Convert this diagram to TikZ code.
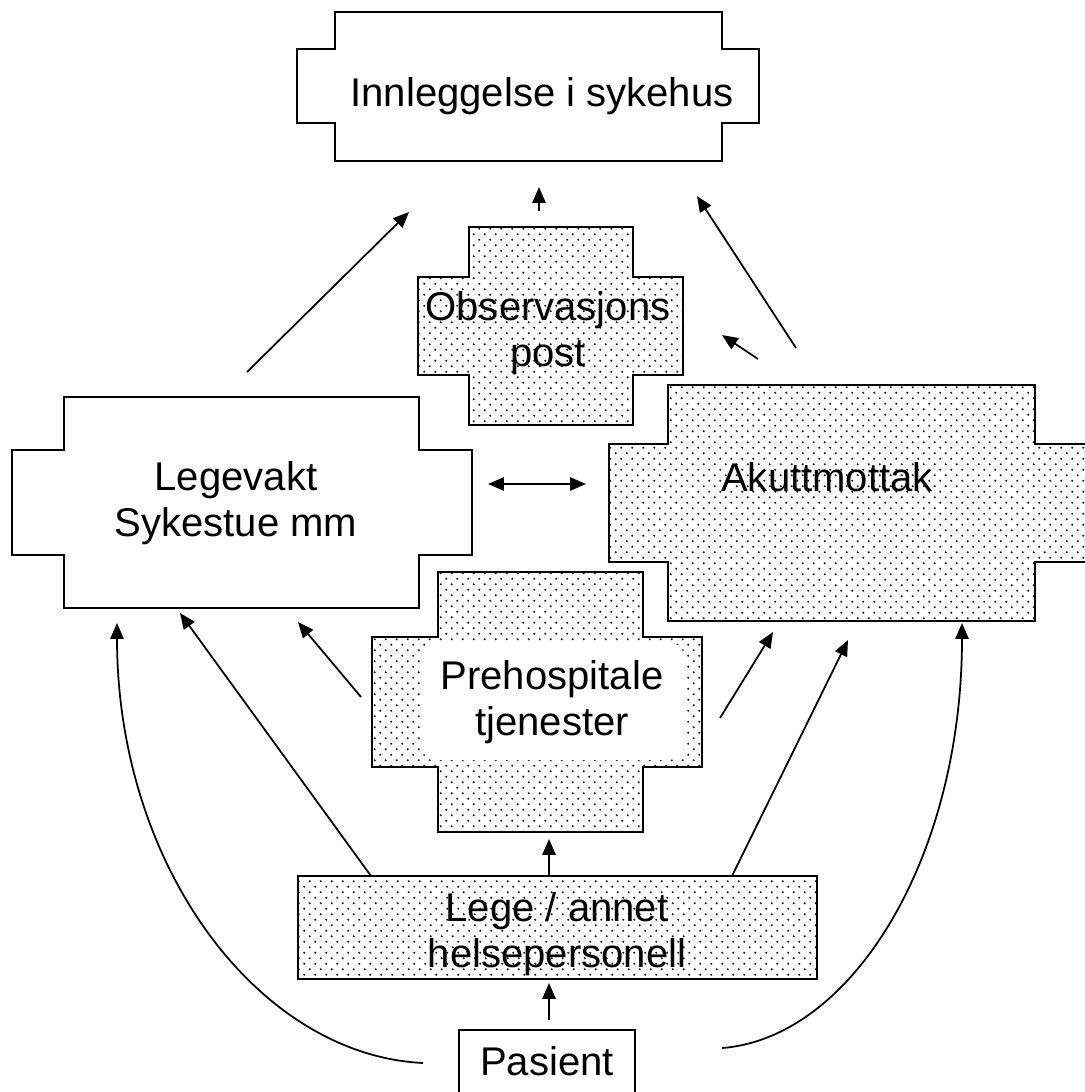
\documentclass[tikz,border=0pt]{standalone}
\usepackage{fontspec}
\setmainfont{Liberation Sans}
\usetikzlibrary{arrows.meta,patterns}
\pgfdeclarepatternformonly{pdots}{\pgfqpoint{0pt}{0pt}}{\pgfqpoint{6.24pt}{6.24pt}}{\pgfqpoint{6.24pt}{6.24pt}}{%
  \pgfpathcircle{\pgfqpoint{1.56pt}{1.56pt}}{0.62pt}%
  \pgfpathcircle{\pgfqpoint{4.68pt}{4.68pt}}{0.62pt}%
  \pgfusepath{fill}}
% #1 style, #2 wide left, #3 inner left, #4 inner right, #5 wide right,
% #6 inner top, #7 wide top, #8 wide bottom, #9 inner bottom
\newcommand\plaque[9]{\draw[#1] (#3,#6) -- (#4,#6) -- (#4,#7) -- (#5,#7) -- (#5,#8) -- (#4,#8) -- (#4,#9) -- (#3,#9) -- (#3,#8) -- (#2,#8) -- (#2,#7) -- (#3,#7) -- cycle;}
\begin{document}
\begin{tikzpicture}[x=0.02cm,y=-0.02cm,
  plainbox/.style={draw=black, line width=1.1pt, fill=white},
  dotbox/.style={draw=black, line width=1.1pt, preaction={fill=white}, pattern=pdots, pattern color=black!90},
  lbl/.style={font=\fontsize{22.8}{26.1}\selectfont, inner sep=0pt, align=center, anchor=base},
  arr/.style={-{Triangle[length=9pt,width=7.5pt]}, line width=1pt},
  darr/.style={{Triangle[length=9pt,width=7.5pt]}-{Triangle[length=9pt,width=7.5pt]}, line width=1pt}]
\clip (0,0) rectangle (1085,1092);
\fill[white] (0,0) rectangle (1085,1092);

% shapes
\plaque{plainbox}{297}{335}{722}{759}{12}{49}{123}{161}
\plaque{dotbox}{418}{469}{633}{683}{227}{277}{375}{425}
\plaque{plainbox}{12}{64}{419}{472}{397}{450}{555}{608}
\plaque{dotbox}{609}{668}{1035}{1100}{385}{444}{562}{621}
\plaque{dotbox}{372}{438}{643}{702}{572}{637}{767}{832}
\fill[white, rounded corners=10] (420,642) rectangle (685,760);
\draw[dotbox] (298,876) rectangle (817,979);
\draw[plainbox] (459,1030) rectangle (635,1110);

% labels
\node[lbl] (inn) at (542,106) {Innleggelse i sykehus};
\node[lbl] (obs) at (548,366) {Observasjons\\post};
\node[lbl] (leg) at (236,536) {Legevakt\\Sykestue mm};
\node[lbl] (akutt) at (827,491) {Akuttmottak};
\node[lbl] (preh) at (552,735) {Prehospitale\\tjenester};
\node[lbl] (lege) at (557,967) {Lege / annet\\helsepersonell};
\node[lbl] (pas) at (547,1075) {Pasient};

% connector ends
\coordinate (legS) at (247,372);   \coordinate (innA) at (409,212);
\coordinate (obsS) at (539,211);   \coordinate (innB) at (539,187);
\coordinate (akS1) at (796,348);   \coordinate (innC) at (697,196);
\coordinate (akS2) at (758,359);   \coordinate (obsT) at (722,335);
\coordinate (dL) at (488,484);     \coordinate (dR) at (586,484);
\coordinate (prS1) at (361,697);   \coordinate (legT1) at (298,622);
\coordinate (lgS1) at (371,876);   \coordinate (legT2) at (180,613);
\coordinate (paS1) at (423,1063);  \coordinate (legT3) at (117,623);
\coordinate (prS2) at (720,718);   \coordinate (akT1) at (773,632);
\coordinate (lgS2) at (732,876);   \coordinate (akT2) at (848,640);
\coordinate (paS2) at (722,1048);  \coordinate (akT3) at (962,623);
\coordinate (lgS3) at (549,875);   \coordinate (prT) at (549,839);
\coordinate (paS3) at (549,1020);  \coordinate (lgT) at (549,983);

% connectors
\draw[arr] (legS) -- (innA);
\draw[arr] (obsS) -- (innB);
\draw[arr] (akS1) -- (innC);
\draw[arr] (akS2) -- (obsT);
\draw[darr] (dL) -- (dR);
\draw[arr] (prS1) -- (legT1);
\draw[arr] (lgS1) -- (legT2);
\draw[arr] (paS1) .. controls (258,1055) and (117,866) .. (legT3);
\draw[arr] (prS2) -- (akT1);
\draw[arr] (lgS2) -- (akT2);
\draw[arr] (paS2) .. controls (852,1038) and (962,858) .. (akT3);
\draw[arr] (lgS3) -- (prT);
\draw[arr] (paS3) -- (lgT);
\end{tikzpicture}
\end{document}
